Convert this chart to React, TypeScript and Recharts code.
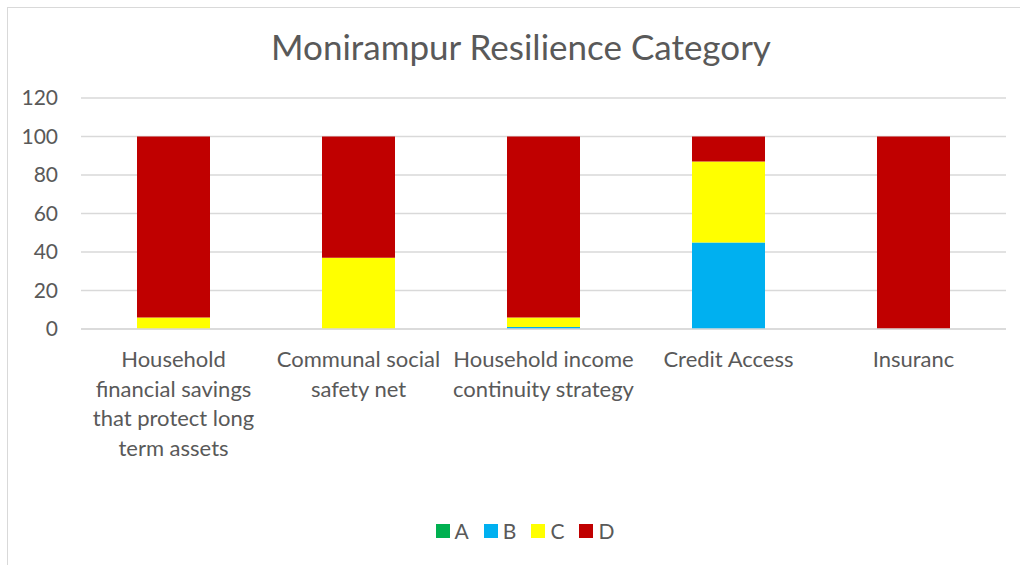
import { BarChart, Bar, XAxis, YAxis, CartesianGrid } from "recharts";

const categories = [
  "Household financial savings that protect long term assets",
  "Communal social safety net",
  "Household income continuity strategy",
  "Credit Access",
  "Insuranc",
];
const seriesA = [0, 0, 0, 0, 0];
const seriesB = [0, 0, 1, 45, 0];
const seriesC = [6, 37, 5, 42, 0];
const seriesD = [94, 63, 94, 13, 100];
const yTicks = [0, 20, 40, 60, 80, 100, 120];

const FONT = "Lato, 'Open Sans', sans-serif";
const TEXT_COLOR = "#595959";
const LABEL_SIZE = 22;
const LABEL_WRAP = 182;

const SERIES = [
  { key: "A", color: "#00B050" },
  { key: "B", color: "#00B0F0" },
  { key: "C", color: "#FFFF00" },
  { key: "D", color: "#C00000" },
];

const chartData = categories.map((name, i) => ({
  name,
  A: seriesA[i],
  B: seriesB[i],
  C: seriesC[i],
  D: seriesD[i],
}));

let ctx: CanvasRenderingContext2D | null = null;
function measure(s: string) {
  if (!ctx) ctx = document.createElement("canvas").getContext("2d");
  if (!ctx) return s.length * LABEL_SIZE * 0.5;
  ctx.font = `${LABEL_SIZE}px ${FONT}`;
  return ctx.measureText(s).width;
}

// greedy word wrap, like excel does for axis labels
function wrap(label: string) {
  const lines: string[] = [];
  let cur = "";
  label.split(" ").forEach((w) => {
    const next = cur ? cur + " " + w : w;
    if (cur && measure(next) > LABEL_WRAP) {
      lines.push(cur);
      cur = w;
    } else {
      cur = next;
    }
  });
  if (cur) lines.push(cur);
  return lines;
}

const CategoryTick = ({ x, y, payload }: any) => (
  <text
    x={x}
    y={y + 38}
    textAnchor="middle"
    fill={TEXT_COLOR}
    style={{ fontSize: LABEL_SIZE, fontFamily: FONT }}
  >
    {wrap(payload.value).map((line, i) => (
      <tspan key={i} x={x} dy={i === 0 ? 0 : 29.5}>
        {line}
      </tspan>
    ))}
  </text>
);

export default function App() {
  return (
    <div
      style={{
        position: "fixed",
        left: 0,
        top: 0,
        width: 1020,
        height: 565,
        overflow: "hidden",
        background: "#fff",
        fontFamily: FONT,
      }}
    >
      <div
        style={{
          position: "absolute",
          left: 7,
          top: 7,
          width: 1040,
          height: 600,
          border: "1px solid #d9d9d9",
        }}
      />
      <div
        style={{
          position: "absolute",
          left: 0,
          top: 26,
          width: 1042,
          textAlign: "center",
          fontSize: 35,
          lineHeight: "40px",
          color: TEXT_COLOR,
        }}
      >
        Monirampur Resilience Category
      </div>

      <div style={{ position: "absolute", left: 0, top: 0 }}>
        <BarChart
          width={1020}
          height={565}
          data={chartData}
          margin={{ top: 98, right: 14, bottom: 0, left: 31 }}
          barSize={73}
        >
          <CartesianGrid vertical={false} stroke="#d9d9d9" strokeWidth={1.5} />
          <XAxis
            dataKey="name"
            height={236}
            tickLine={false}
            axisLine={{ stroke: "#d9d9d9", strokeWidth: 1.5 }}
            tickSize={0}
            tickMargin={0}
            interval={0}
            tick={<CategoryTick />}
          />
          <YAxis
            width={50}
            domain={[0, 120]}
            ticks={yTicks}
            tickLine={false}
            axisLine={false}
            tickSize={0}
            tickMargin={23}
            tick={{ fill: TEXT_COLOR, fontSize: 21, fontFamily: FONT }}
          />
          {SERIES.map((s) => (
            <Bar
              key={s.key}
              dataKey={s.key}
              stackId="a"
              fill={s.color}
              isAnimationActive={false}
            />
          ))}
        </BarChart>
      </div>

      <div
        style={{
          position: "absolute",
          left: 0,
          top: 518,
          width: 1050,
          display: "flex",
          justifyContent: "center",
          gap: 15,
          fontSize: 21,
          lineHeight: "26px",
          color: TEXT_COLOR,
        }}
      >
        {SERIES.map((s) => (
          <div key={s.key} style={{ display: "flex", alignItems: "center" }}>
            <span
              style={{
                width: 14,
                height: 14,
                background: s.color,
                marginRight: 5,
                display: "inline-block",
              }}
            />
            <span>{s.key}</span>
          </div>
        ))}
      </div>
    </div>
  );
}
